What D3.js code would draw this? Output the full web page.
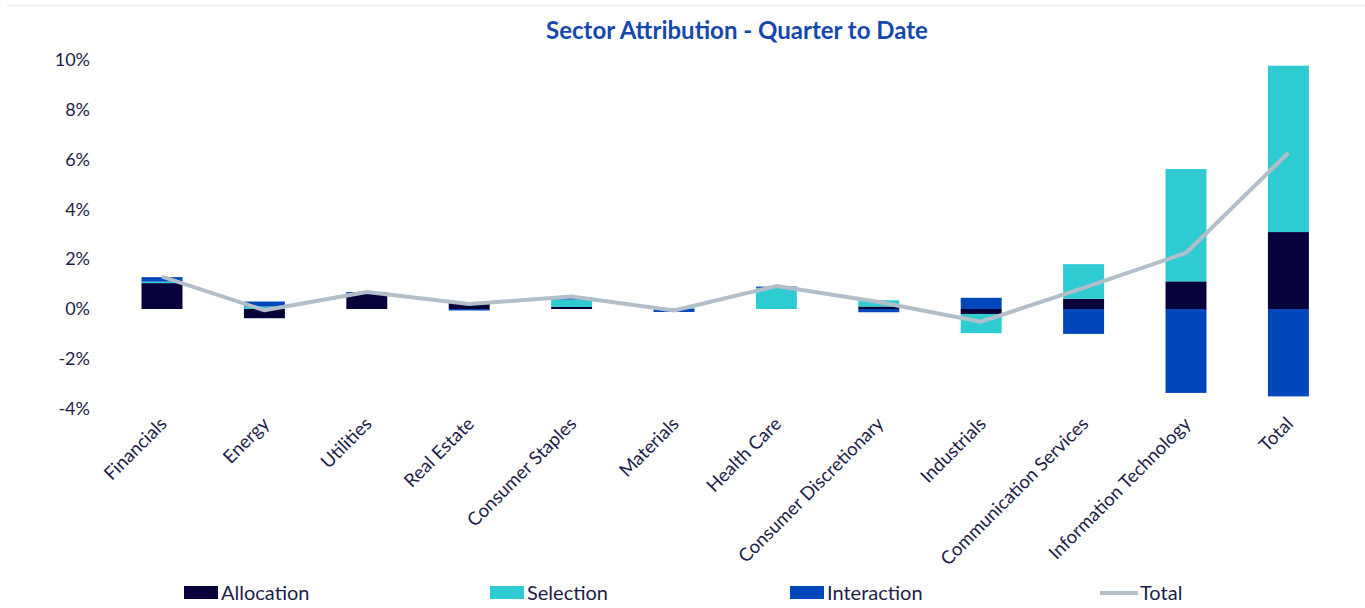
<!DOCTYPE html>
<html>
<head>
<meta charset="utf-8">
<script src="https://d3js.org/d3.v7.min.js"></script>
<style>
  body { margin: 0; background: #fff; }
  text { font-family: Lato, "Open Sans", sans-serif; }
</style>
</head>
<body>
<div id="chart"></div>
<script>

// Chart values (percent)
var categories = ["Financials", "Energy", "Utilities", "Real Estate", "Consumer Staples", "Materials",
                  "Health Care", "Consumer Discretionary", "Industrials", "Communication Services",
                  "Information Technology", "Total"];
var allocation  = [1.04, -0.37, 0.63, 0.24, 0.08, 0.00, 0.00, 0.10, -0.20, 0.41, 1.11, 3.09];
var selection   = [0.06, 0.10, 0.00, 0.00, 0.30, 0.04, 0.85, 0.25, -0.77, 1.39, 4.51, 6.68];
var interaction = [0.18, 0.20, 0.05, -0.06, 0.10, -0.12, 0.05, -0.13, 0.45, -1.00, -3.37, -3.51];
var total       = [1.30, -0.05, 0.68, 0.20, 0.50, -0.06, 0.92, 0.28, -0.51, 0.85, 2.25, 6.27];
var yTicks = [-4, -2, 0, 2, 4, 6, 8, 10];

var seriesNames = ["Allocation", "Selection", "Interaction"];
var colors = { Allocation: "#07023a", Selection: "#2ecbd2", Interaction: "#0047bb" };
var lineColor = "#b2bec9";
var textColor = "#1d1d48";

var width = 1365, height = 608;

var rows = categories.map(function (c, i) {
  return { cat: c, Allocation: allocation[i], Selection: selection[i], Interaction: interaction[i], Total: total[i] };
});

var svg = d3.select("#chart").append("svg")
    .attr("width", width)
    .attr("height", height);

// faint top border
svg.append("line")
    .attr("x1", 7).attr("x2", width).attr("y1", 5.5).attr("y2", 5.5)
    .attr("stroke", "#ececec").attr("stroke-width", 1.5);

var x = d3.scaleBand()
    .domain(categories)
    .range([110.8, 1339.6])
    .paddingInner(0.6)
    .paddingOuter(0.3);

var y = d3.scaleLinear()
    .domain([-4, 10])
    .range([408.6, 60]);

// Title
svg.append("text")
    .attr("x", 737).attr("y", 39)
    .attr("text-anchor", "middle")
    .attr("font-size", "24px")
    .attr("font-weight", "bold")
    .attr("fill", "#1547ad")
    .text("Sector Attribution - Quarter to Date");

// Y axis labels only
var yAxis = d3.axisLeft(y).tickValues(yTicks).tickFormat(function (d) { return d + "%"; }).tickSize(0).tickPadding(0);
var gy = svg.append("g").attr("transform", "translate(90,0)").call(yAxis);
gy.select(".domain").remove();
gy.selectAll("text")
    .attr("font-size", "18px")
    .attr("fill", textColor)
    .attr("font-family", "Lato, sans-serif");

// Stacked bars
var stack = d3.stack().keys(seriesNames).offset(d3.stackOffsetDiverging);
var stacked = stack(rows);

svg.append("g").selectAll("g")
    .data(stacked)
    .enter().append("g")
    .attr("fill", function (d) { return colors[d.key]; })
    .selectAll("rect")
    .data(function (d) { return d; })
    .enter().append("rect")
    .attr("x", function (d) { return x(d.data.cat); })
    .attr("width", x.bandwidth())
    .attr("y", function (d) { return y(Math.max(d[0], d[1])); })
    .attr("height", function (d) { return Math.abs(y(d[0]) - y(d[1])); });

// Total line
var line = d3.line()
    .x(function (d) { return x(d.cat) + x.bandwidth() / 2; })
    .y(function (d) { return y(d.Total); });

svg.append("path")
    .datum(rows)
    .attr("d", line)
    .attr("fill", "none")
    .attr("stroke", lineColor)
    .attr("stroke-width", 4)
    .attr("stroke-linejoin", "round");

// X labels, rotated
svg.append("g").selectAll("text")
    .data(categories)
    .enter().append("text")
    .attr("transform", function (d) {
      return "translate(" + (x(d) + x.bandwidth() / 2 + 6) + ",425) rotate(-45)";
    })
    .attr("text-anchor", "end")
    .attr("font-size", "18.5px")
    .attr("fill", textColor)
    .text(function (d) { return d; });

// Legend
var legendItems = [
  { name: "Allocation", x: 184, type: "rect" },
  { name: "Selection", x: 490, type: "rect" },
  { name: "Interaction", x: 790, type: "rect" },
  { name: "Total", x: 1100, type: "line" }
];

var legend = svg.append("g").selectAll("g")
    .data(legendItems)
    .enter().append("g")
    .attr("transform", function (d) { return "translate(" + d.x + ",593)"; });

legend.filter(function (d) { return d.type === "rect"; })
    .append("rect")
    .attr("x", 0).attr("y", -7)
    .attr("width", 34).attr("height", 13)
    .attr("fill", function (d) { return colors[d.name]; });

legend.filter(function (d) { return d.type === "line"; })
    .append("line")
    .attr("x1", 0).attr("x2", 38).attr("y1", 0).attr("y2", 0)
    .attr("stroke", lineColor).attr("stroke-width", 4);

legend.append("text")
    .attr("x", function (d) { return d.type === "line" ? 40 : 37; })
    .attr("y", 7)
    .attr("font-size", "20px")
    .attr("fill", textColor)
    .text(function (d) { return d.name; });

</script>
</body>
</html>
